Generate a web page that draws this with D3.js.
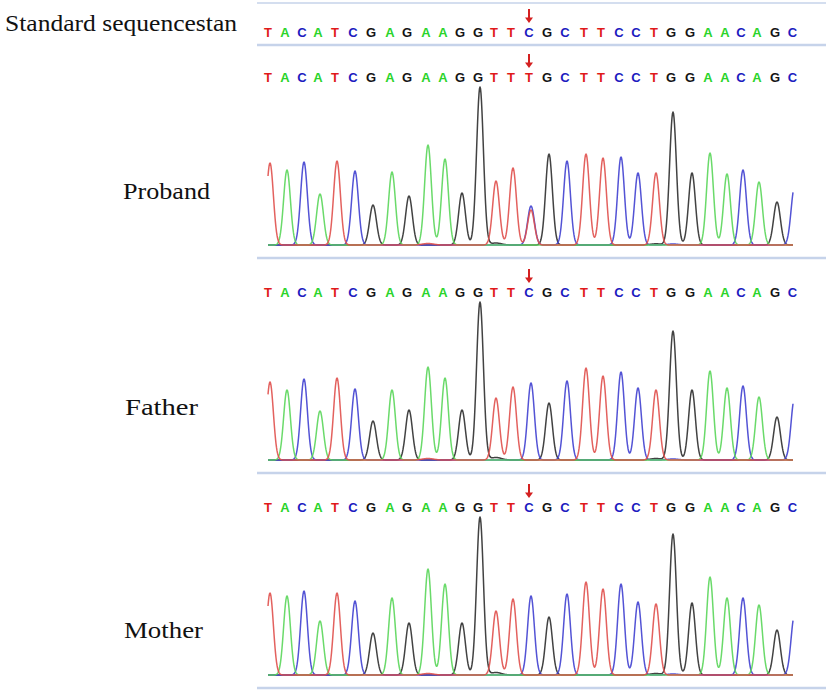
<!DOCTYPE html>
<html>
<head>
<meta charset="utf-8">
<script src="https://cdn.jsdelivr.net/npm/d3@7"></script>
<style>
  html, body { margin: 0; padding: 0; background: #fff; }
  svg { display: block; }
</style>
</head>
<body>
<svg id="chart" width="828" height="700"></svg>
<script>
// ---------------- data ----------------
const refBases = ["T","A","C","A","T","C","G","A","G","A","A","G","G","T","T","C","G","C","T","T","C","C","T","G","G","A","A","C","A","G","C"];
const probandCalls = ["T","A","C","A","T","C","G","A","G","A","A","G","G","T","T","T","G","C","T","T","C","C","T","G","G","A","A","C","A","G","C"];
const fatherCalls = refBases.slice();
const motherCalls = refBases.slice();
const variantIndex = 15;

// peak scan positions (shared by the three traces)
const peakScan = [0,17,34,50,67,85,103,122,139,158,175,192,210,226,243,261,279,297,316,333,351,368,386,403,422,440,457,473,489,507,524.5];

// peak heights (signal units)
const probandHeights = [82,75,83,51,84,74,40,73,49,100,86,52,158,64,77,35,91,84,91,87,88,72,72,133,72,92,71,75,63,43,58];
const fatherHeights  = [78,70,81,49,82,71,39,70,50,93,82,50,158,62,73,77,57,79,92,84,88,72,70,129,70,89,72,74,63,43,62];
const motherHeights  = [82,79,84,54,82,74,42,77,52,106,91,52,158,64,76,79,58,81,93,86,91,73,71,141,72,98,77,77,70,45,60];

// heterozygous secondary peak in the proband
const probandHetIndex = [15];
const probandHetBase = ["C"];
const probandHetHeight = [39];

// small background bumps
const minorScan = [158, 226, 386, 403];
const minorBase = ["T", "G", "G", "C"];
const probandMinor = [1.5, 2, 1.2, 1];
const fatherMinor  = [1.5, 2.5, 1.5, 1];
const motherMinor  = [1.5, 2.5, 1.5, 1];

const rowLabels = ["Standard sequencestan", "Proband", "Father", "Mother"];

// ---------------- drawing ----------------
const svg = d3.select("#chart");
const letterColor = { T: "#e01a1a", A: "#2ad42a", C: "#1c1cc0", G: "#151515" };
const traceColor  = { T: "#e0504c", A: "#5ad65a", C: "#4040d0", G: "#2e2e2e" };
const frameColor = "#c6d3ea";

const x = d3.scaleLinear().domain([-2, 523]).range([268, 793]);
const sigma = 3.4;

// frame lines
const lineYs = [3, 45, 258, 473, 688];
svg.selectAll("line.frame").data(lineYs).enter().append("line")
  .attr("class", "frame")
  .attr("x1", 257).attr("x2", 826)
  .attr("y1", d => d).attr("y2", d => d)
  .attr("stroke", frameColor)
  .attr("stroke-width", (d, i) => i === 0 ? 1.5 : 2.5);

function drawLetters(calls, cy) {
  const g = svg.append("g");
  g.selectAll("text").data(calls).enter().append("text")
    .attr("x", (d, i) => x(peakScan[i]) - 2)
    .attr("y", cy + 5)
    .attr("text-anchor", "middle")
    .attr("font-family", "Liberation Sans, Arial, sans-serif")
    .attr("font-weight", "bold")
    .attr("font-size", 13)
    .attr("fill", d => letterColor[d])
    .text(d => d);
  // arrow
  const ax = x(peakScan[variantIndex]) - 2;
  g.append("line")
    .attr("x1", ax).attr("x2", ax)
    .attr("y1", cy - 23).attr("y2", cy - 13)
    .attr("stroke", "#d42020").attr("stroke-width", 2);
  g.append("path")
    .attr("d", `M${ax - 4},${cy - 14.5} L${ax + 4},${cy - 14.5} L${ax},${cy - 9} Z`)
    .attr("fill", "#d42020");
}

function drawTrace(heights, calls, hetIdx, hetBase, hetH, minor, baseY) {
  const y = d3.scaleLinear().domain([0, 160]).range([baseY, baseY - 160]);
  const peaks = [];
  calls.forEach((b, i) => peaks.push({ base: b, pos: peakScan[i], h: heights[i] }));
  hetIdx.forEach((idx, k) => peaks.push({ base: hetBase[k], pos: peakScan[idx], h: hetH[k] }));
  minorScan.forEach((p, k) => peaks.push({ base: minorBase[k], pos: p, h: minor[k], wide: true }));

  const samples = d3.range(-2, 523.01, 0.5);
  const order = ["G", "C", "A", "T"];
  const line = d3.line().x(d => x(d[0])).y(d => y(d[1])).curve(d3.curveLinear);
  order.forEach(base => {
    const ps = peaks.filter(p => p.base === base);
    const pts = samples.map(s => {
      let v = 0;
      ps.forEach(p => {
        const sg = p.wide ? sigma * 1.6 : sigma;
        v += p.h * Math.exp(-((s - p.pos) ** 2) / (2 * sg * sg));
      });
      return [s, v];
    });
    svg.append("path")
      .attr("d", line(pts))
      .attr("fill", "none")
      .attr("stroke", traceColor[base])
      .attr("stroke-width", 1.5)
      .attr("stroke-linejoin", "round")
      .attr("opacity", 0.9);
  });
}

// labels
const labelPos = [
  { x: 5, y: 31, len: 232 },
  { x: 123, y: 199, len: 87 },
  { x: 125, y: 415, len: 73 },
  { x: 124, y: 638, len: 79 }
];
svg.selectAll("text.label").data(rowLabels).enter().append("text")
  .attr("class", "label")
  .attr("x", (d, i) => labelPos[i].x)
  .attr("y", (d, i) => labelPos[i].y)
  .attr("font-family", "Liberation Serif, Times New Roman, serif")
  .attr("font-size", 24)
  .attr("fill", "#111")
  .attr("textLength", (d, i) => labelPos[i].len)
  .attr("lengthAdjust", "spacingAndGlyphs")
  .text(d => d);

// rows
drawLetters(refBases, 32);
drawLetters(probandCalls, 77);
drawTrace(probandHeights, probandCalls, probandHetIndex, probandHetBase, probandHetHeight, probandMinor, 245);
drawLetters(fatherCalls, 292);
drawTrace(fatherHeights, fatherCalls, [], [], [], fatherMinor, 460);
drawLetters(motherCalls, 507);
drawTrace(motherHeights, motherCalls, [], [], [], motherMinor, 675);
</script>
</body>
</html>
